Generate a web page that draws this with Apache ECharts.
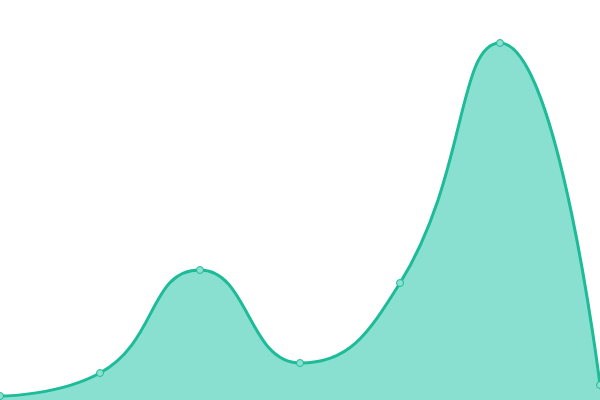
<!DOCTYPE html>
<html><head><meta charset="utf-8">
<script src="https://cdn.jsdelivr.net/npm/echarts@6/dist/echarts.min.js"></script>
<style>html,body{margin:0;padding:0;background:#fff}#c{width:600px;height:400px}</style>
</head><body><div id="c"></div>
<script>
const categories = ['A','B','C','D','E','F','G'];
const values = [4, 27, 130, 37, 117, 357, 15];
const chart = echarts.init(document.getElementById('c'), null, {renderer:'canvas'});
chart.setOption({
  animation:false,
  grid:{left:0,right:0,top:0,bottom:0},
  xAxis:{type:'category',data:categories,boundaryGap:false,show:false},
  yAxis:{type:'value',min:0,max:400,show:false},
  series:[{
    type:'line',data:values,smooth:true,
    symbol:'circle',symbolSize:7,
    lineStyle:{color:'#1dbb97',width:3},
    itemStyle:{color:'#8be0cf',borderColor:'#1dbb97',borderWidth:1},
    areaStyle:{color:'#8ae0d0',opacity:1}
  }]
});
</script></body></html>
